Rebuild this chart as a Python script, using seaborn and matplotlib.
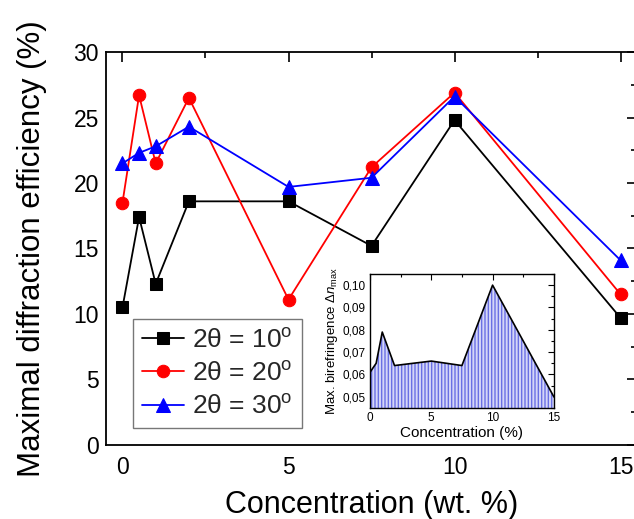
import numpy as np
import pandas as pd
import matplotlib
matplotlib.use("Agg")
import matplotlib.pyplot as plt
import seaborn as sns
from matplotlib.ticker import MultipleLocator, FuncFormatter

sns.set_theme(style="white")
plt.rcParams['font.family'] = ['Liberation Sans', 'DejaVu Sans']
plt.rcParams['mathtext.fontset'] = 'custom'
plt.rcParams['mathtext.rm'] = 'Liberation Sans'
plt.rcParams['mathtext.it'] = 'Liberation Sans:italic'

# ---- data ----
concentration = [0, 0.5, 1, 2, 5, 7.5, 10, 15]
eff_10 = [10.5, 17.4, 12.3, 18.6, 18.6, 15.2, 24.8, 9.7]
eff_20 = [18.5, 26.7, 21.5, 26.5, 11.1, 21.2, 26.9, 11.5]
eff_30 = [21.5, 22.3, 22.8, 24.3, 19.7, 20.4, 26.6, 14.1]
series_labels = [r"2$\mathrm{\theta}$ = 10$^{\rm o}$",
                 r"2$\mathrm{\theta}$ = 20$^{\rm o}$",
                 r"2$\mathrm{\theta}$ = 30$^{\rm o}$"]

inset_conc = [0, 0.5, 1, 2, 5, 7.5, 10, 15]
inset_biref = [0.061, 0.065, 0.079, 0.064, 0.066, 0.064, 0.100, 0.050]

fig = plt.figure(figsize=(6.34, 5.19), dpi=100)
ax = fig.add_axes([0.167, 0.1426, 0.838, 0.7572])

styles = [("black", "s", 8), ("red", "o", 9), ("blue", "^", 10)]
for vals, lab, (c, m, ms) in zip([eff_10, eff_20, eff_30], series_labels, styles):
    df = pd.DataFrame({"x": concentration, "y": vals})
    sns.lineplot(data=df, x="x", y="y", ax=ax, color=c, marker=m, markersize=ms,
                 markeredgecolor=c, linewidth=1.3, label=lab, sort=False)

ax.set_xlim(-0.5, 15.5)
ax.set_ylim(0, 30)
ax.xaxis.set_major_locator(MultipleLocator(5))
ax.xaxis.set_minor_locator(MultipleLocator(2.5))
ax.yaxis.set_major_locator(MultipleLocator(5))
ax.yaxis.set_minor_locator(MultipleLocator(2.5))
ax.tick_params(which='both', direction='in', top=True, right=True, colors='black',
               labelsize=16.5, width=1.2)
ax.tick_params(which='major', length=7)
ax.tick_params(which='minor', length=4)
ax.tick_params(axis='x', which='major', pad=8)
ax.tick_params(axis='y', which='major', pad=5)
for s in ax.spines.values():
    s.set_color('black')
    s.set_linewidth(1.3)
ax.set_xlabel("Concentration (wt. %)", fontsize=22, labelpad=8, color='black')
ax.set_ylabel("Maximal diffraction efficiency (%)", fontsize=22.5, labelpad=19, color='black')

leg = ax.legend(loc='lower left', bbox_to_anchor=(0.051, 0.043), borderaxespad=0,
                fontsize=19, frameon=True, fancybox=False, edgecolor='#555555',
                handlelength=1.6, handletextpad=0.3, labelspacing=0.35, borderpad=0.35)
leg.get_frame().set_linewidth(1.0)

# ---- inset ----
ins = fig.add_axes([0.5836, 0.2139, 0.290, 0.2582])
ins.fill_between(inset_conc, inset_biref, 0.045, facecolor='#d4d6f8',
                 edgecolor='#6a70e4', hatch='|||||', linewidth=0)
dfi = pd.DataFrame({"x": inset_conc, "y": inset_biref})
sns.lineplot(data=dfi, x="x", y="y", ax=ins, color='black', linewidth=1.2, sort=False)
ins.set_xlim(0, 15)
ins.set_ylim(0.045, 0.105)
ins.xaxis.set_major_locator(MultipleLocator(5))
ins.xaxis.set_minor_locator(MultipleLocator(2.5))
ins.yaxis.set_major_locator(MultipleLocator(0.01))
ins.yaxis.set_minor_locator(MultipleLocator(0.005))
ins.yaxis.set_major_formatter(FuncFormatter(lambda v, p: f"{v:.2f}".replace('.', ',')))
ins.tick_params(which='both', direction='in', top=True, right=True, colors='black',
                labelsize=8.5, width=0.8, pad=3)
ins.tick_params(which='major', length=4)
ins.tick_params(which='minor', length=2)
for s in ins.spines.values():
    s.set_color('black')
    s.set_linewidth(1.0)
ins.set_xlabel("Concentration (%)", fontsize=11, labelpad=1, color='black')
ins.set_ylabel(r"Max. birefringence $\Delta n_{\rm max}$", fontsize=9.5, labelpad=2, color='black')

fig.savefig("out.png", dpi=100)
